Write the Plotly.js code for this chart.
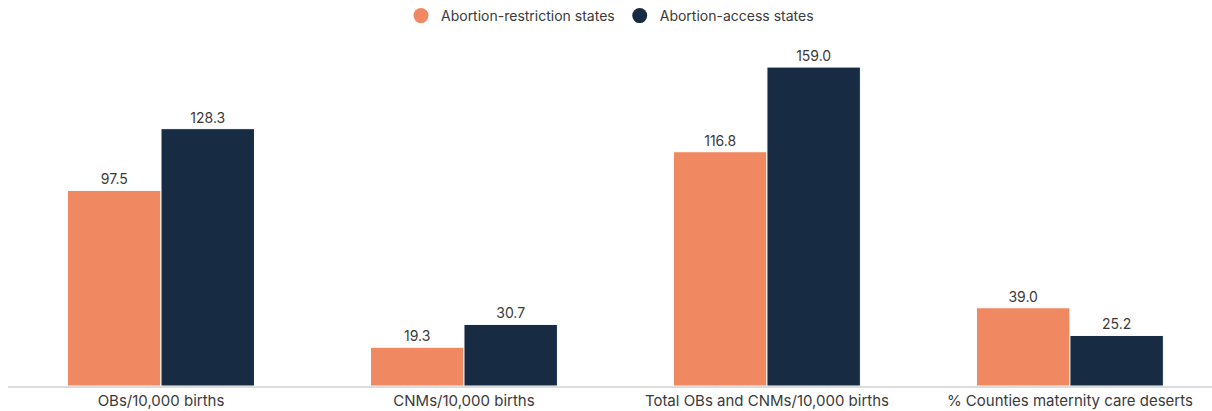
<!DOCTYPE html>
<html>
<head>
<meta charset="utf-8">
<script src="https://cdn.plot.ly/plotly-3.0.1.min.js"></script>
<style>html,body{margin:0;padding:0;background:#fff;}#chart{width:1212px;height:411px;}</style>
</head>
<body>
<div id="chart"></div>
<script>
const categories = ["OBs/10,000 births", "CNMs/10,000 births", "Total OBs and CNMs/10,000 births", "% Counties maternity care deserts"];
const restrictionValues = [97.5, 19.3, 116.8, 39.0];
const accessValues = [128.3, 30.7, 159.0, 25.2];
const seriesNames = ["Abortion-restriction states", "Abortion-access states"];
const colors = ["#F08862", "#172B43"];

const font = "Inter, Roboto, 'Liberation Sans', sans-serif";
function barTrace(vals, name, color) {
  return {
    type: "bar", x: categories, y: vals, name: name, showlegend: false,
    marker: {color: color, line: {color: "#ffffff", width: 1}},
    text: vals.map(v => v.toFixed(1)), textposition: "outside", cliponaxis: false,
    textfont: {family: font, size: 14, color: "#3a3a3a"}, hoverinfo: "x+y"
  };
}
function legendTrace(name, color) {
  return {type: "scatter", mode: "markers", x: [null], y: [null], name: name,
    marker: {color: color, size: 15, symbol: "circle"}, showlegend: true};
}
const data = [
  barTrace(restrictionValues, seriesNames[0], colors[0]),
  barTrace(accessValues, seriesNames[1], colors[1]),
  legendTrace(seriesNames[0], colors[0]),
  legendTrace(seriesNames[1], colors[1])
];
const layout = {
  width: 1212, height: 411,
  margin: {l: 8, r: 0, t: 40, b: 25},
  paper_bgcolor: "#ffffff", plot_bgcolor: "#ffffff",
  barmode: "group", bargap: 0.383, bargroupgap: 0,
  font: {family: font, size: 14, color: "#3a3a3a"},
  showlegend: true,
  legend: {orientation: "h", x: 0.5, xanchor: "center", y: 1, yanchor: "top", yref: "container",
    font: {family: font, size: 14, color: "#3a3a3a"}, traceorder: "normal", itemwidth: 30},
  xaxis: {type: "category", range: [-0.505, 3.469], showline: true, linecolor: "#dcdcdc", linewidth: 1.5,
    ticks: "", showgrid: false, zeroline: false, fixedrange: true,
    tickfont: {family: font, size: 15, color: "#3a3a3a"}},
  yaxis: {range: [0, 172.5], visible: false, showgrid: false, zeroline: false, fixedrange: true}
};
Plotly.newPlot("chart", data, layout, {displayModeBar: false, staticPlot: true});
</script>
</body>
</html>
